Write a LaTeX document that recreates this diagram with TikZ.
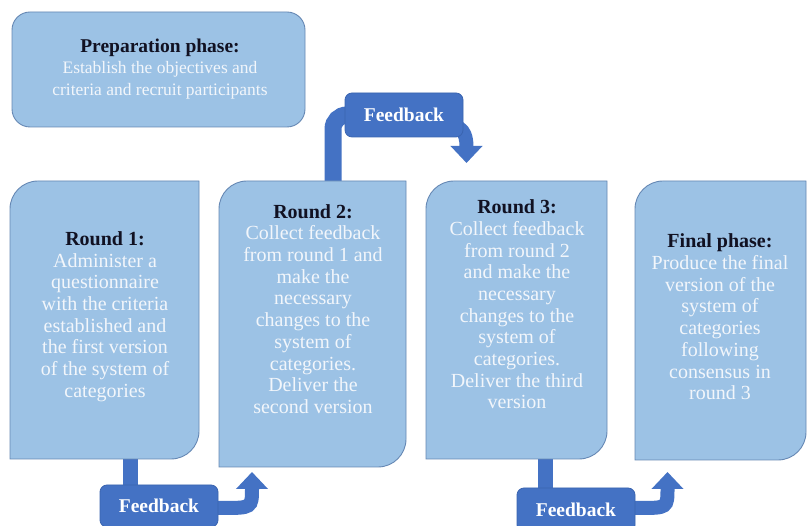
\documentclass[tikz,border=0pt]{standalone}
\usepackage{fontspec}
\setmainfont{Liberation Serif}
\usetikzlibrary{arrows.meta}
\definecolor{boxfill}{HTML}{9CC2E5}
\definecolor{boxline}{HTML}{6688B4}
\definecolor{fbblue}{HTML}{4472C4}
\definecolor{fbline}{HTML}{3A64B0}
\definecolor{bodytxt}{HTML}{F2F6FB}
\definecolor{titletxt}{HTML}{111122}
\newcommand\ttl[1]{\textcolor{titletxt}{\bfseries #1}}
\pgfdeclarelayer{bg}
\pgfsetlayers{bg,main}
\newcommand\leafshape[1]{%
  \draw[leaf] (#1.south west) -- ([yshift=-28pt]#1.north west)
    arc[start angle=180,end angle=90,radius=28pt] -- (#1.north east)
    -- ([yshift=28pt]#1.south east)
    arc[start angle=0,end angle=-90,radius=28pt] -- cycle;}
\begin{document}
\begin{tikzpicture}[x=1pt,y=1pt,
  every node/.style={inner sep=0pt,outer sep=0pt},
  area/.style={rectangle,draw=none,fill=none},
  leaf/.style={fill=boxfill,draw=boxline,line width=0.9pt},
  prepbox/.style={rectangle,rounded corners=18pt,fill=boxfill,draw=boxline,line width=0.9pt},
  fbbox/.style={rectangle,rounded corners=7pt,fill=fbblue,draw=fbline,line width=0.8pt,
    text=white,font=\fontsize{19.5}{21.7}\selectfont\bfseries},
  txt/.style={align=center,text=bodytxt,font=\fontsize{20}{21.7}\selectfont},
  preptxt/.style={align=center,text=bodytxt,font=\fontsize{17.5}{21.5}\selectfont},
  conn/.style={draw=fbblue,line width=15pt},
  tip/.style={-{Triangle[width=31pt,length=17pt]}}]
\useasboundingbox (0,0) rectangle (808,526);
\begin{pgfonlayer}{bg}
  \fill[white] (0,0) rectangle (808,526);
\end{pgfonlayer}
\clip (0,0) rectangle (808,526);

% preparation
\node[prepbox,minimum width=293pt,minimum height=115pt] (prep) at (158.5,456.5) {};
\node[preptxt] (preptxt) at (160,457) {{\fontsize{19.5}{21.5}\selectfont\ttl{Preparation phase:}}\\Establish the objectives and\\criteria and recruit participants};

% phase boxes
\node[area,minimum width=189pt,minimum height=278pt] (r1) at (104.5,206) {};
\node[area,minimum width=187pt,minimum height=286pt] (r2) at (312.5,202) {};
\node[area,minimum width=181pt,minimum height=278pt] (r3) at (516.5,206) {};
\node[area,minimum width=171pt,minimum height=279pt] (fin) at (720.5,205.5) {};
\leafshape{r1}
\leafshape{r2}
\leafshape{r3}
\leafshape{fin}

% feedback boxes
\node[fbbox,minimum width=118pt,minimum height=44pt] (fb1) at (404,411) {Feedback};
\node[fbbox,minimum width=118pt,minimum height=42pt] (fb2) at (159,20) {Feedback};
\node[fbbox,minimum width=118pt,minimum height=44pt] (fb3) at (576,16) {Feedback};

\coordinate (bar1) at (130,0);
\coordinate (bar2) at (333,0);
\coordinate (bar3) at (545,0);
\coordinate (t1) at (466.5,363);
\coordinate (t2) at (252,54);
\coordinate (t3) at (667.5,54);

\begin{pgfonlayer}{bg}
  \draw[conn,line width=17pt,rounded corners=14pt] (r2.north -| bar2) |- (fb1.center);
  \draw[conn,line width=14pt,tip] ([xshift=-12pt,yshift=-11pt]fb1.east)
     .. controls +(15,0) and +(0,22) .. (t1);
  \draw[conn] (r1.south -| bar1) -- (fb2.north -| bar1);
  \draw[conn,line width=14pt,tip] ([xshift=-6pt,yshift=-2pt]fb2.east) -- ++(10,0)
     .. controls (252,18) .. (t2);
  \draw[conn] (r3.south -| bar3) -- (fb3.north -| bar3);
  \draw[conn,line width=14pt,tip] ([xshift=-6pt,yshift=2pt]fb3.east) -- ++(10,0)
     .. controls (667.5,18) .. (t3);
\end{pgfonlayer}

% texts
\node[txt] (r1t) at (105,209.5) {\ttl{Round 1:}\\Administer a\\questionnaire\\with the criteria\\established and\\the first version\\of the system of\\categories};
\node[txt] (r2t) at (313,217) {\ttl{Round 2:}\\Collect feedback\\from round 1 and\\make the\\necessary\\changes to the\\system of\\categories.\\Deliver the\\second version};
\node[txt] (r3t) at (517,221.5) {\ttl{Round 3:}\\Collect feedback\\from round 2\\and make the\\necessary\\changes to the\\system of\\categories.\\Deliver the third\\version};
\node[txt] (fint) at (720,209) {\ttl{Final phase:}\\Produce the final\\version of the\\system of\\categories\\following\\consensus in\\round 3};
\end{tikzpicture}
\end{document}
